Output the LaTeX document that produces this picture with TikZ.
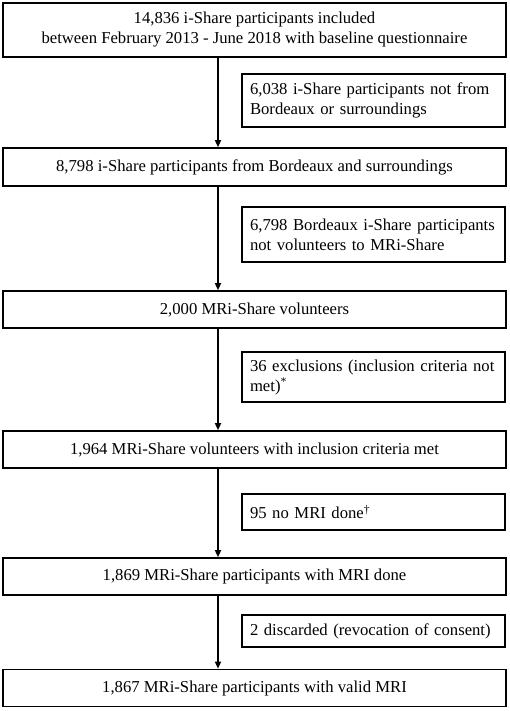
\documentclass[tikz,border=0pt]{standalone}
\usepackage{fontspec}
\setmainfont{Liberation Serif}
\usetikzlibrary{arrows.meta,positioning}
\tikzset{
  >={Triangle[length=5.4pt,width=4.6pt]},
  % flödesschema
  mainbox/.style={draw,line width=1.2pt,minimum width=377.25pt,inner sep=0pt,
                  align=center,font=\fontsize{12.5}{15}\selectfont},
  sidebox/.style={draw,line width=1.2pt,inner xsep=6pt,inner ysep=0pt,
                  text width=185.25pt,align=left,font=\fontsize{12.5}{15}\selectfont},
  flow/.style={->,line width=1.2pt},
}
\begin{document}
\begin{tikzpicture}[x=0.75pt,y=-0.75pt]
\useasboundingbox (0,0) rectangle (510,711);
  \coordinate (ax) at (218,0);
  % huvudkedjan
  \node[mainbox,minimum height=40.5pt] (all) at (254.5,30)
    {14,836 i-Share participants included\\between February 2013 - June 2018 with baseline questionnaire};
  \node[mainbox,minimum height=28.5pt] (bdx) at (254.5,167) {8,798 i-Share participants from Bordeaux and surroundings};
  \node[mainbox,minimum height=27.75pt] (vol) at (254.5,309.5) {2,000 MRi-Share volunteers};
  \node[mainbox,minimum height=27.75pt] (incl) at (254.5,449.5) {1,964 MRi-Share volunteers with inclusion criteria met};
  \node[mainbox,minimum height=27.75pt] (mri) at (254.5,576.5) {1,869 MRi-Share participants with MRI done};
  \node[mainbox,minimum height=27.75pt] (valid) at (254.5,688) {1,867 MRi-Share participants with valid MRI};
  % uteslutna
  \node[sidebox,minimum height=39.75pt] (notbdx) at (373.5,100.5)
    {6,038 i-Share participants not from\\Bordeaux or surroundings};
  \node[sidebox,minimum height=41.25pt] (notvol) at (373.5,234.5)
    {6,798 Bordeaux i-Share participants\\not volunteers to MRi-Share};
  \node[sidebox,minimum height=37.5pt] (excl) at (373.5,377)
    {36 exclusions (inclusion criteria not\\met)\textsuperscript{*}};
  \node[sidebox,minimum height=27pt] (nomri) at (373.5,512) {95 no MRI done\textsuperscript{\textdagger}};
  \node[sidebox,minimum height=24pt] (disc) at (373.5,631) {2 discarded (revocation of consent)};
  % pilar
  \draw[flow] (all.south -| ax) -- (bdx.north -| ax);
  \draw[flow] (bdx.south -| ax) -- (vol.north -| ax);
  \draw[flow] (vol.south -| ax) -- (incl.north -| ax);
  \draw[flow] (incl.south -| ax) -- (mri.north -| ax);
  \draw[flow] (mri.south -| ax) -- (valid.north -| ax);
\end{tikzpicture}
\end{document}
